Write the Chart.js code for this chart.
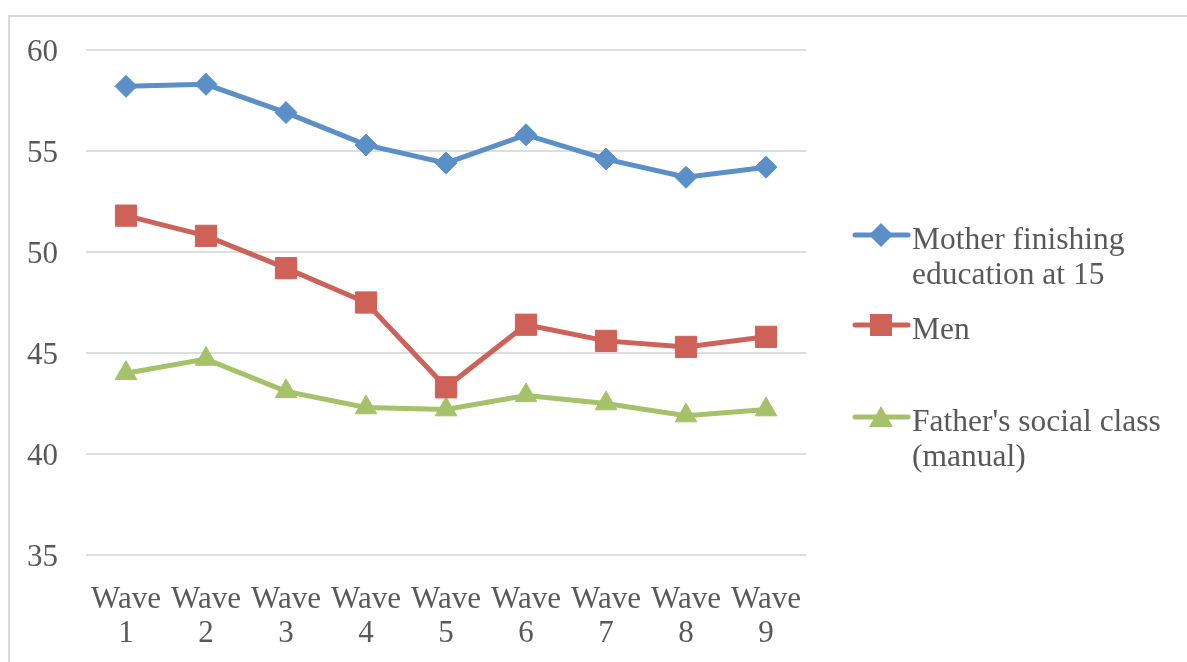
<!DOCTYPE html>
<html>
<head>
<meta charset="utf-8">
<script src="https://cdn.jsdelivr.net/npm/chart.js@4"></script>
<style>
  html, body { margin: 0; padding: 0; background: #fff; overflow: hidden; }
  #wrap { position: relative; width: 1187px; height: 662px; }
  #frame { position: absolute; left: 8px; top: 15px; width: 1200px; height: 700px;
           border: 2px solid #d9d9d9; box-sizing: border-box; }
  #chart { position: absolute; left: 0; top: 0; }
  .item { position: absolute; left: 852px; font-family: 'Liberation Serif', serif;
          font-size: 31.5px; line-height: 35px; color: #595959; }
  .item svg { position: absolute; left: 0; }
  .item span { position: absolute; left: 60px; white-space: nowrap; }
</style>
</head>
<body>
<div id="wrap">
  <div id="frame"></div>
  <canvas id="chart" width="1187" height="662"></canvas>
  <div id="legend"></div>
</div>
<script>
const waves = [['Wave', '1'], ['Wave', '2'], ['Wave', '3'], ['Wave', '4'], ['Wave', '5'],
               ['Wave', '6'], ['Wave', '7'], ['Wave', '8'], ['Wave', '9']];
const motherEducation15 = [58.2, 58.3, 56.9, 55.3, 54.4, 55.8, 54.6, 53.7, 54.2];
const men = [51.8, 50.8, 49.2, 47.5, 43.3, 46.4, 45.6, 45.3, 45.8];
const fatherManual = [44.0, 44.7, 43.1, 42.3, 42.2, 42.9, 42.5, 41.9, 42.2];
const yTicks = [35, 40, 45, 50, 55, 60];

const seriesNames = [['Mother finishing', 'education at 15'], ['Men'], ["Father's social class", '(manual)']];
const colors = ['#5B8FC8', '#CE6259', '#A5C26A'];
const shapes = ['rectRot', 'rect', 'triangle'];
const radii = [11, 15, 12.5];
const legendTops = [221, 311, 403];

const seriesValues = [motherEducation15, men, fatherManual];
const datasets = seriesValues.map((vals, i) => ({
  label: seriesNames[i].join(' '),
  data: vals,
  borderColor: colors[i],
  backgroundColor: colors[i],
  borderWidth: 5,
  pointStyle: shapes[i],
  pointRadius: radii[i],
  pointHoverRadius: radii[i],
  pointBorderWidth: 1,
  pointBorderColor: colors[i],
  pointBackgroundColor: colors[i],
  tension: 0,
  fill: false
}));

const font = { family: "'Liberation Serif', serif", size: 31, lineHeight: 1.12 };

const chart = new Chart(document.getElementById('chart'), {
  type: 'line',
  data: { labels: waves, datasets },
  options: {
    responsive: false,
    animation: false,
    events: [],
    layout: { padding: { left: 0, right: 381, top: 50, bottom: 0 } },
    plugins: { legend: { display: false }, tooltip: { enabled: false } },
    scales: {
      x: {
        offset: true,
        grid: { display: false, drawTicks: false },
        border: { display: false },
        ticks: { color: '#595959', font, padding: 27, maxRotation: 0, autoSkip: false },
        afterFit: s => { s.height = 107; }
      },
      y: {
        min: 35, max: 60,
        grid: { color: '#dedede', lineWidth: 2, drawTicks: false },
        border: { display: false },
        ticks: { color: '#595959', font, padding: 28, stepSize: 5, labelOffset: 3,
                 callback: v => yTicks.includes(v) ? String(v) : '' },
        afterFit: s => { s.width = 86; }
      }
    }
  }
});

// legend built from the datasets
const legend = document.getElementById('legend');
datasets.forEach((ds, i) => {
  const item = document.createElement('div');
  item.className = 'item';
  item.style.top = legendTops[i] + 'px';
  const c = ds.borderColor;
  let marker;
  if (ds.pointStyle === 'rectRot') {
    marker = `<polygon points="29,2 41,14 29,26 17,14" fill="${c}"/>`;
  } else if (ds.pointStyle === 'rect') {
    marker = `<rect x="18" y="3" width="22" height="22" fill="${c}"/>`;
  } else {
    marker = `<polygon points="29,3 41,24 17,24" fill="${c}"/>`;
  }
  item.innerHTML = `<svg width="60" height="30" style="top:0px">
      <line x1="3" y1="14" x2="56" y2="14" stroke="${c}" stroke-width="5" stroke-linecap="round"/>
      ${marker}</svg><span>${seriesNames[i].join('<br>')}</span>`;
  legend.appendChild(item);
});
</script>
</body>
</html>
